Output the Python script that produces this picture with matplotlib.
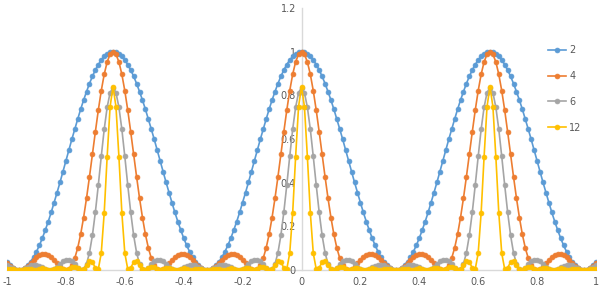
import numpy as np
import matplotlib
matplotlib.use("Agg")
import matplotlib.pyplot as plt

# sample grid, -1 .. 1 in steps of 0.01
x = np.round(np.arange(-100, 101) * 0.01, 2)

# values (one row per lobe side)
y_2 = [
    0.038, 0.022, 0.010, 0.002, 0.000,
    0.002, 0.010, 0.022, 0.038, 0.059, 0.084, 0.113, 0.146, 0.183, 0.222, 0.264, 0.309, 0.355, 0.402, 0.451, 0.500, 0.549, 0.598, 0.645, 0.691, 0.736, 0.778, 0.817, 0.854, 0.887, 0.916, 0.941, 0.962, 0.978, 0.990, 0.998, 1.000,
    0.998, 0.990, 0.978, 0.962, 0.941, 0.916, 0.887, 0.854, 0.817, 0.778, 0.736, 0.691, 0.645, 0.598, 0.549, 0.500, 0.451, 0.402, 0.355, 0.309, 0.264, 0.222, 0.183, 0.146, 0.113, 0.084, 0.059, 0.038, 0.022, 0.010, 0.002, 0.000,
    0.002, 0.010, 0.022, 0.038, 0.059, 0.084, 0.113, 0.146, 0.183, 0.222, 0.264, 0.309, 0.355, 0.402, 0.451, 0.500, 0.549, 0.598, 0.645, 0.691, 0.736, 0.778, 0.817, 0.854, 0.887, 0.916, 0.941, 0.962, 0.978, 0.990, 0.998, 1.000,
    0.998, 0.990, 0.978, 0.962, 0.941, 0.916, 0.887, 0.854, 0.817, 0.778, 0.736, 0.691, 0.645, 0.598, 0.549, 0.500, 0.451, 0.402, 0.355, 0.309, 0.264, 0.222, 0.183, 0.146, 0.113, 0.084, 0.059, 0.038, 0.022, 0.010, 0.002, 0.000,
    0.002, 0.010, 0.022, 0.038, 0.059, 0.084, 0.113, 0.146, 0.183, 0.222, 0.264, 0.309, 0.355, 0.402, 0.451, 0.500, 0.549, 0.598, 0.645, 0.691, 0.736, 0.778, 0.817, 0.854, 0.887, 0.916, 0.941, 0.962, 0.978, 0.990, 0.998, 1.000,
    0.998, 0.990, 0.978, 0.962, 0.941, 0.916, 0.887, 0.854, 0.817, 0.778, 0.736, 0.691, 0.645, 0.598, 0.549, 0.500, 0.451, 0.402, 0.355, 0.309, 0.264, 0.222, 0.183, 0.146, 0.113, 0.084, 0.059, 0.038, 0.022, 0.010, 0.002, 0.000,
    0.002, 0.010, 0.022, 0.038,
]

y_4 = [
    0.032, 0.020, 0.009, 0.002, 0.000,
    0.002, 0.009, 0.020, 0.032, 0.046, 0.058, 0.068, 0.073, 0.074, 0.069, 0.059, 0.045, 0.030, 0.015, 0.004, 0.000, 0.005, 0.023, 0.054, 0.101, 0.163, 0.240, 0.329, 0.427, 0.530, 0.633, 0.732, 0.821, 0.896, 0.953, 0.988, 1.000,
    0.988, 0.953, 0.896, 0.821, 0.732, 0.633, 0.530, 0.427, 0.329, 0.240, 0.163, 0.101, 0.054, 0.023, 0.005, 0.000, 0.004, 0.015, 0.030, 0.045, 0.059, 0.069, 0.074, 0.073, 0.068, 0.058, 0.046, 0.032, 0.020, 0.009, 0.002, 0.000,
    0.002, 0.009, 0.020, 0.032, 0.046, 0.058, 0.068, 0.073, 0.074, 0.069, 0.059, 0.045, 0.030, 0.015, 0.004, 0.000, 0.005, 0.023, 0.054, 0.101, 0.163, 0.240, 0.329, 0.427, 0.530, 0.633, 0.732, 0.821, 0.896, 0.953, 0.988, 1.000,
    0.988, 0.953, 0.896, 0.821, 0.732, 0.633, 0.530, 0.427, 0.329, 0.240, 0.163, 0.101, 0.054, 0.023, 0.005, 0.000, 0.004, 0.015, 0.030, 0.045, 0.059, 0.069, 0.074, 0.073, 0.068, 0.058, 0.046, 0.032, 0.020, 0.009, 0.002, 0.000,
    0.002, 0.009, 0.020, 0.032, 0.046, 0.058, 0.068, 0.073, 0.074, 0.069, 0.059, 0.045, 0.030, 0.015, 0.004, 0.000, 0.005, 0.023, 0.054, 0.101, 0.163, 0.240, 0.329, 0.427, 0.530, 0.633, 0.732, 0.821, 0.896, 0.953, 0.988, 1.000,
    0.988, 0.953, 0.896, 0.821, 0.732, 0.633, 0.530, 0.427, 0.329, 0.240, 0.163, 0.101, 0.054, 0.023, 0.005, 0.000, 0.004, 0.015, 0.030, 0.045, 0.059, 0.069, 0.074, 0.073, 0.068, 0.058, 0.046, 0.032, 0.020, 0.009, 0.002, 0.000,
    0.002, 0.009, 0.020, 0.032,
]

y_6 = [
    0.021, 0.014, 0.007, 0.002, 0.000,
    0.002, 0.007, 0.014, 0.021, 0.024, 0.024, 0.020, 0.014, 0.006, 0.001, 0.000, 0.005, 0.014, 0.027, 0.039, 0.046, 0.047, 0.040, 0.026, 0.011, 0.001, 0.004, 0.028, 0.079, 0.159, 0.265, 0.389, 0.520, 0.644, 0.745, 0.812, 0.835,
    0.812, 0.745, 0.644, 0.520, 0.389, 0.265, 0.159, 0.079, 0.028, 0.004, 0.001, 0.011, 0.026, 0.040, 0.047, 0.046, 0.039, 0.027, 0.014, 0.005, 0.000, 0.001, 0.006, 0.014, 0.020, 0.024, 0.024, 0.021, 0.014, 0.007, 0.002, 0.000,
    0.002, 0.007, 0.014, 0.021, 0.024, 0.024, 0.020, 0.014, 0.006, 0.001, 0.000, 0.005, 0.014, 0.027, 0.039, 0.046, 0.047, 0.040, 0.026, 0.011, 0.001, 0.004, 0.028, 0.079, 0.159, 0.265, 0.389, 0.520, 0.644, 0.745, 0.812, 0.835,
    0.812, 0.745, 0.644, 0.520, 0.389, 0.265, 0.159, 0.079, 0.028, 0.004, 0.001, 0.011, 0.026, 0.040, 0.047, 0.046, 0.039, 0.027, 0.014, 0.005, 0.000, 0.001, 0.006, 0.014, 0.020, 0.024, 0.024, 0.021, 0.014, 0.007, 0.002, 0.000,
    0.002, 0.007, 0.014, 0.021, 0.024, 0.024, 0.020, 0.014, 0.006, 0.001, 0.000, 0.005, 0.014, 0.027, 0.039, 0.046, 0.047, 0.040, 0.026, 0.011, 0.001, 0.004, 0.028, 0.079, 0.159, 0.265, 0.389, 0.520, 0.644, 0.745, 0.812, 0.835,
    0.812, 0.745, 0.644, 0.520, 0.389, 0.265, 0.159, 0.079, 0.028, 0.004, 0.001, 0.011, 0.026, 0.040, 0.047, 0.046, 0.039, 0.027, 0.014, 0.005, 0.000, 0.001, 0.006, 0.014, 0.020, 0.024, 0.024, 0.021, 0.014, 0.007, 0.002, 0.000,
    0.002, 0.007, 0.014, 0.021,
]

y_12 = [
    0.003, 0.006, 0.005, 0.002, 0.000,
    0.002, 0.005, 0.006, 0.003, 0.000, 0.001, 0.005, 0.007, 0.005, 0.001, 0.000, 0.004, 0.009, 0.008, 0.003, 0.000, 0.004, 0.012, 0.016, 0.009, 0.001, 0.004, 0.022, 0.040, 0.036, 0.010, 0.004, 0.077, 0.261, 0.518, 0.748, 0.840,
    0.748, 0.518, 0.261, 0.077, 0.004, 0.010, 0.036, 0.040, 0.022, 0.004, 0.001, 0.009, 0.016, 0.012, 0.004, 0.000, 0.003, 0.008, 0.009, 0.004, 0.000, 0.001, 0.005, 0.007, 0.005, 0.001, 0.000, 0.003, 0.006, 0.005, 0.002, 0.000,
    0.002, 0.005, 0.006, 0.003, 0.000, 0.001, 0.005, 0.007, 0.005, 0.001, 0.000, 0.004, 0.009, 0.008, 0.003, 0.000, 0.004, 0.012, 0.016, 0.009, 0.001, 0.004, 0.022, 0.040, 0.036, 0.010, 0.004, 0.077, 0.261, 0.518, 0.748, 0.840,
    0.748, 0.518, 0.261, 0.077, 0.004, 0.010, 0.036, 0.040, 0.022, 0.004, 0.001, 0.009, 0.016, 0.012, 0.004, 0.000, 0.003, 0.008, 0.009, 0.004, 0.000, 0.001, 0.005, 0.007, 0.005, 0.001, 0.000, 0.003, 0.006, 0.005, 0.002, 0.000,
    0.002, 0.005, 0.006, 0.003, 0.000, 0.001, 0.005, 0.007, 0.005, 0.001, 0.000, 0.004, 0.009, 0.008, 0.003, 0.000, 0.004, 0.012, 0.016, 0.009, 0.001, 0.004, 0.022, 0.040, 0.036, 0.010, 0.004, 0.077, 0.261, 0.518, 0.748, 0.840,
    0.748, 0.518, 0.261, 0.077, 0.004, 0.010, 0.036, 0.040, 0.022, 0.004, 0.001, 0.009, 0.016, 0.012, 0.004, 0.000, 0.003, 0.008, 0.009, 0.004, 0.000, 0.001, 0.005, 0.007, 0.005, 0.001, 0.000, 0.003, 0.006, 0.005, 0.002, 0.000,
    0.002, 0.005, 0.006, 0.003,
]

series_names = ["2", "4", "6", "12"]
series_colors = ["#5B9BD5", "#ED7D31", "#A5A5A5", "#FFC000"]

x_ticks = [-1, -0.8, -0.6, -0.4, -0.2, 0, 0.2, 0.4, 0.6, 0.8, 1]
y_ticks = [0, 0.2, 0.4, 0.6, 0.8, 1, 1.2]

fig = plt.figure(figsize=(6, 2.89), dpi=100)
ax = fig.add_axes([0.0117, 0.0657, 0.9816, 0.9066])

for name, vals, col in zip(series_names, [y_2, y_4, y_6, y_12], series_colors):
    ax.plot(x, vals, color=col, lw=1.2, marker="o", ms=3.5, mew=0.5,
            label=name, zorder=3)

ax.set_xlim(-1, 1)
ax.set_ylim(0, 1.2)
ax.set_xticks(x_ticks)
ax.set_xticklabels([f"{v:g}" for v in x_ticks])
ax.set_yticks(y_ticks)
ax.set_yticklabels([f"{v:g}" for v in y_ticks])

# axes cross at zero, like Excel
ax.spines["left"].set_position(("data", 0))
for s in ["top", "right"]:
    ax.spines[s].set_visible(False)
for s in ["left", "bottom"]:
    ax.spines[s].set_color("#d9d9d9")
    ax.spines[s].set_linewidth(1)
    ax.spines[s].set_zorder(1)

ax.tick_params(axis="both", length=0, labelsize=7, colors="#595959")
ax.tick_params(axis="x", pad=5)
ax.tick_params(axis="y", pad=4)

leg = ax.legend(loc="upper left", bbox_to_anchor=(0.905, 0.86),
                bbox_transform=fig.transFigure, frameon=False, fontsize=7,
                labelspacing=1.62, handlelength=1.9, handletextpad=0.3,
                borderpad=0)
for t in leg.get_texts():
    t.set_color("#595959")

fig.savefig("out.png", dpi=100)
